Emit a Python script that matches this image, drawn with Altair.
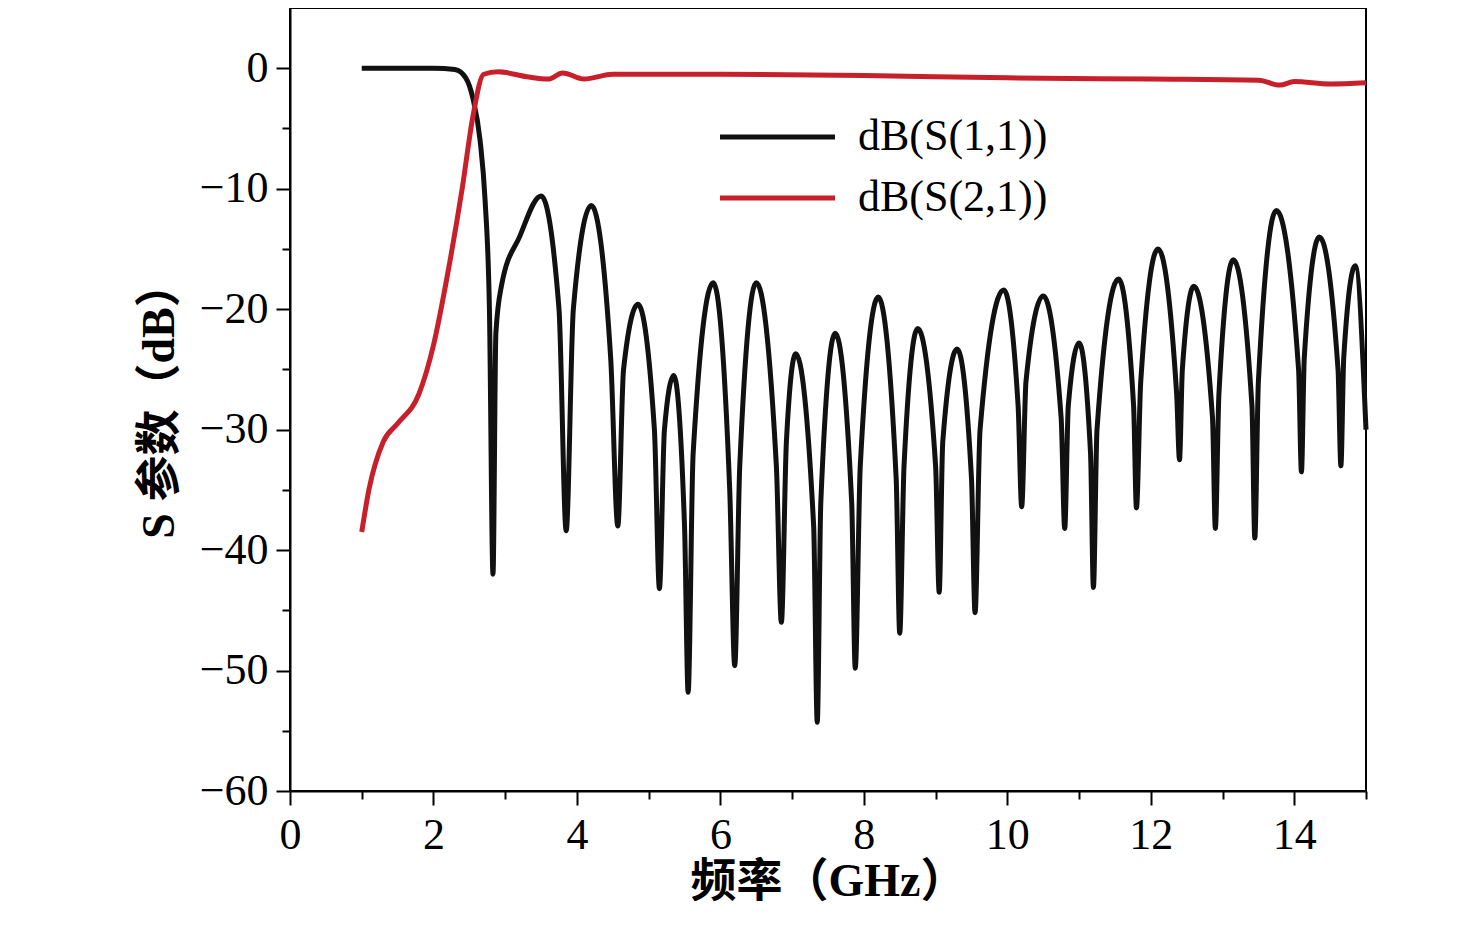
import altair as alt
import pandas as pd

s11_x = [1.0, 1.5, 2.0, 2.3, 2.45, 2.55, 2.65, 2.72, 2.78, 2.83, 2.87, 2.95, 3.2, 3.5, 3.75, 3.85, 3.95, 4.2, 4.47, 4.57, 4.65, 4.85,
         5.08, 5.15, 5.22, 5.35, 5.5, 5.55, 5.62, 5.9, 6.13, 6.2, 6.27, 6.5, 6.78, 6.85, 6.92, 7.05, 7.3, 7.35, 7.4, 7.6, 7.83, 7.88, 7.95,
         8.2, 8.45, 8.5, 8.56, 8.75, 9.0, 9.05, 9.1, 9.3, 9.5, 9.55, 9.62, 9.95, 10.15, 10.2, 10.26, 10.5, 10.75, 10.8, 10.85, 11.0,
         11.16, 11.2, 11.25, 11.55, 11.76, 11.8, 11.86, 12.1, 12.36, 12.4, 12.44, 12.6, 12.86, 12.9, 12.95, 13.15, 13.41, 13.45, 13.5,
         13.75, 14.06, 14.1, 14.14, 14.35, 14.61, 14.65, 14.69, 14.85, 15.0]
s11_y = [0, 0, 0, -0.1, -0.8, -2.5, -6, -11, -20, -42, -22, -18, -14, -10.6, -20, -38.4, -20, -11.4, -24, -38, -25, -19.6,
         -30, -43.2, -30, -25.5, -38, -51.8, -32, -17.8, -35, -49.6, -33, -17.8, -33, -46, -31, -23.7, -38, -54.3, -36, -22, -36, -49.8, -33,
         -19, -34, -46.9, -33, -21.6, -33, -43.5, -31, -23.3, -34, -45.2, -30, -18.4, -28, -36.4, -26, -18.9, -29, -38.2, -28, -22.8,
         -32, -43.1, -30, -17.5, -28, -36.5, -26, -15, -27, -32.5, -25, -18.1, -29, -38.2, -27, -15.9, -28, -39, -26,
         -11.8, -25, -33.5, -24, -14, -25, -33, -24, -16.4, -30]

s21_x = [1.0, 1.1, 1.3, 1.5, 1.8, 2.0, 2.2, 2.4, 2.55, 2.7, 2.9, 3.3, 3.6, 3.8, 4.1, 4.5, 6.0, 8.0, 10.0, 12.0, 13.5, 13.8, 14.0, 14.5, 15.0]
s21_y = [-38.5, -35, -31, -29.5, -27, -23, -17, -10, -4, -0.5, -0.3, -0.7, -0.9, -0.4, -0.9, -0.5, -0.5, -0.6, -0.8, -0.9, -1.0, -1.4, -1.1, -1.3, -1.2]

labels = ["dB(S(1,1))", "dB(S(2,1))"]
colors = ["#111111", "#c8202a"]

df = pd.concat([
    pd.DataFrame({"f": s11_x, "v": s11_y, "s": labels[0]}),
    pd.DataFrame({"f": s21_x, "v": s21_y, "s": labels[1]}),
])

font = "Liberation Serif, Noto Sans CJK SC"
tick_expr = {"expr": "datum.value % 2 ? 8 : 14"}
ytick_expr = {"expr": "datum.value % 10 ? 8 : 14"}

lines = alt.Chart(df).mark_line(strokeWidth=5, interpolate="monotone").encode(
    x=alt.X("f:Q", title="频率（GHz）", scale=alt.Scale(domain=[0, 15], nice=False),
            axis=alt.Axis(values=list(range(0, 16)), labelExpr="datum.value % 2 ? '' : datum.label",
                          tickSize=tick_expr, grid=False)),
    y=alt.Y("v:Q", title="S 参数（dB）", scale=alt.Scale(domain=[-60, 5], nice=False),
            axis=alt.Axis(values=list(range(-60, 5, 5)), labelExpr="datum.value % 10 ? '' : replace(datum.label, '-', '−')",
                          tickSize=ytick_expr, grid=False)),
    color=alt.Color("s:N", scale=alt.Scale(domain=labels, range=colors), legend=None),
)

# hand-placed legend inside the plot
leg = []
for i, (lab, col) in enumerate(zip(labels, colors)):
    yy = 129 + 61 * i
    leg.append(alt.Chart(pd.DataFrame({"t": [lab]})).mark_rule(color=col, strokeWidth=5).encode(
        x=alt.value(430), x2=alt.value(545), y=alt.value(yy)))
    leg.append(alt.Chart(pd.DataFrame({"t": [lab]})).mark_text(
        font=font, fontSize=44, align="left", baseline="middle", color="black").encode(
        x=alt.value(568), y=alt.value(yy), text="t:N"))

chart = alt.layer(lines, *leg).properties(
    width=1076, height=783, autosize="none",
    padding={"left": 282, "top": 0, "right": 100, "bottom": 140},
).configure_view(stroke="black", strokeWidth=2).configure_axis(
    labelFont=font, titleFont=font, labelFontSize=44, titleFontSize=46, titleFontWeight="bold",
    labelColor="black", titleColor="black", domainColor="black", tickColor="black", domainWidth=2, tickWidth=2,
    labelPadding=8, labelFlush=False, labelOverlap=False,
).configure_axisY(titlePadding=16).configure_axisX(titlePadding=2)

chart.save("out.html", embed_options={"renderer": "svg", "actions": False})
